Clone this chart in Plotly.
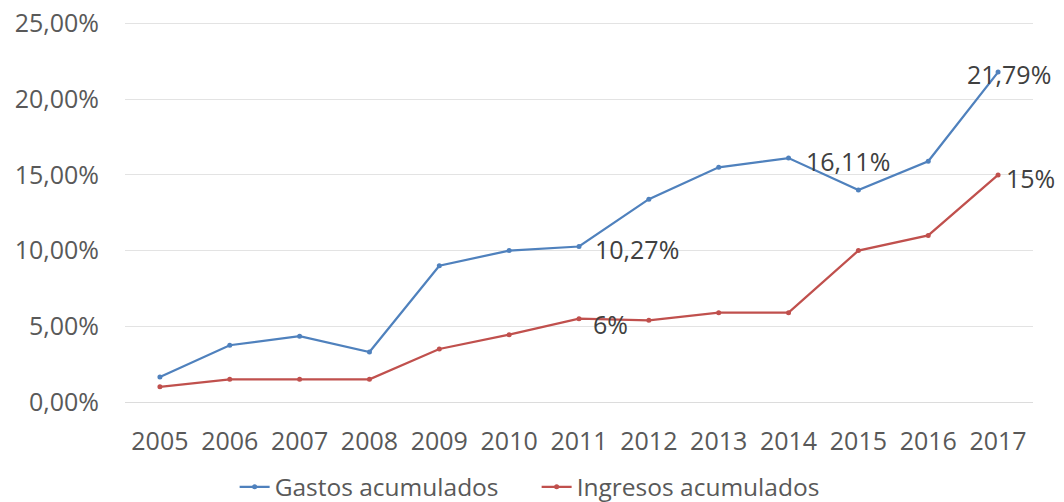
import plotly.graph_objects as go

years = ["2005", "2006", "2007", "2008", "2009", "2010", "2011", "2012", "2013", "2014", "2015", "2016", "2017"]
gastos = [1.65, 3.75, 4.35, 3.3, 9.0, 10.0, 10.27, 13.4, 15.5, 16.11, 14.0, 15.9, 21.79]
ingresos = [1.0, 1.5, 1.5, 1.5, 3.5, 4.45, 5.5, 5.4, 5.9, 5.9, 10.0, 11.0, 15.0]
gastos_labels = ["", "", "", "", "", "", "10,27%", "", "", "16,11%", "", "", "21,79%"]
ingresos_labels = ["", "", "", "", "", "", "6%", "", "", "", "", "", "15%"]
ytick_vals = [0, 5, 10, 15, 20, 25]
ytick_text = ["0,00%", "5,00%", "10,00%", "15,00%", "20,00%", "25,00%"]

BLUE = "#4f81bd"
RED = "#c0504d"
TXT = "#595959"
LBL = "#404040"
FONT = "Open Sans"
FS = 25

# label placement styles (anchor, pixel x offset, pixel y offset), keyed by year
g_style = {"2011": ("left", 14, -2), "2014": ("left", 15, -3), "2017": ("center", 11, -2)}
i_style = {"2011": ("left", 12, -5), "2017": ("left", 6, -3)}

fig = go.Figure()
fig.add_trace(go.Scatter(
    x=years, y=gastos, name="Gastos acumulados", mode="lines+markers",
    line=dict(color=BLUE, width=2.25), marker=dict(size=5, color=BLUE),
    cliponaxis=False,
))
fig.add_trace(go.Scatter(
    x=years, y=ingresos, name="Ingresos acumulados", mode="lines+markers",
    line=dict(color=RED, width=2.25), marker=dict(size=5, color=RED),
    cliponaxis=False,
))

for labels, values, style in ((gastos_labels, gastos, g_style), (ingresos_labels, ingresos, i_style)):
    for i, (yr, val, lab) in enumerate(zip(years, values, labels)):
        if not lab:
            continue
        anchor, dx, dy = style.get(yr, ("left", 12, 0))
        fig.add_annotation(
            x=i, y=val, xref="x", yref="y", text=lab, showarrow=False,
            xanchor=anchor, yanchor="middle", xshift=dx, yshift=dy,
            font=dict(family=FONT, size=FS, color=LBL))

fig.update_layout(
    width=1064, height=502,
    margin=dict(l=117, r=39, t=14, b=108),
    paper_bgcolor="white", plot_bgcolor="white",
    font=dict(family=FONT, size=FS, color=TXT),
    showlegend=True,
    legend=dict(orientation="h", xref="container", yref="container",
                x=0.213, xanchor="left", y=0.046, yanchor="middle",
                font=dict(size=24.5, color=TXT), itemwidth=30, entrywidth=257,
                traceorder="normal", bgcolor="rgba(0,0,0,0)"),
    xaxis=dict(type="category", range=[-0.5, 12.5], showgrid=False, automargin=False,
               showline=False, zeroline=False, ticks="", tickfont=dict(size=FS, color=TXT),
               ticklabelstandoff=22),
    yaxis=dict(range=[0, 25.1], tickvals=ytick_vals, ticktext=ytick_text, automargin=False,
               showgrid=True, gridcolor="#e3e3e3", gridwidth=1, zeroline=True,
               zerolinecolor="#dcdcdc", zerolinewidth=1, showline=False, ticks="",
               tickfont=dict(size=FS, color=TXT), ticklabelstandoff=25,
               ticklabeloverflow="allow"),
)

fig.write_html("out.html")
